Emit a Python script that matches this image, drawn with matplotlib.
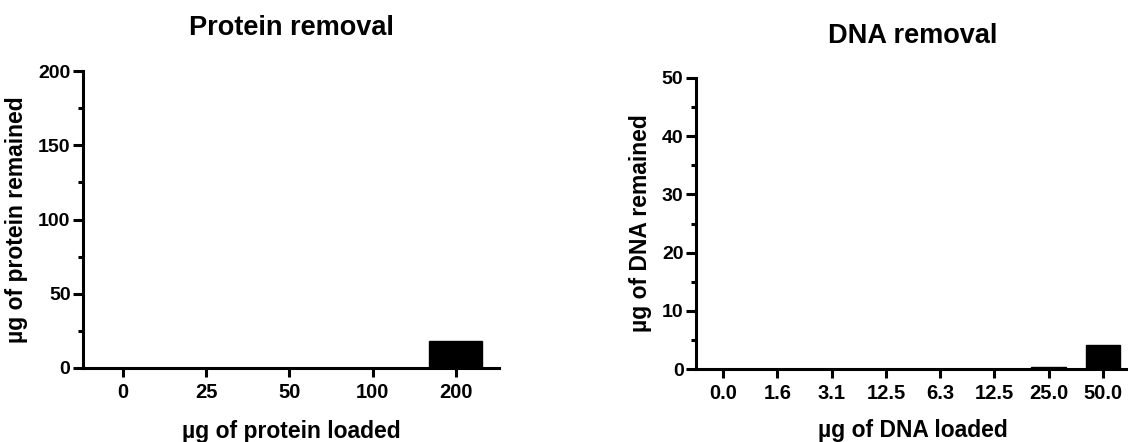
import numpy as np
import matplotlib
matplotlib.use("Agg")
import matplotlib.pyplot as plt
from matplotlib.ticker import MultipleLocator

plt.rcParams['font.family'] = ['Liberation Sans', 'DejaVu Sans']
plt.rcParams['font.weight'] = 'bold'

# protein panel
protein_loaded = ["0", "25", "50", "100", "200"]
protein_remained = [0, 0, 0, 0, 18]

# DNA panel
dna_loaded = ["0.0", "1.6", "3.1", "12.5", "6.3", "12.5", "25.0", "50.0"]
dna_remained = [0, 0, 0, 0, 0, 0, 0.3, 4.1]


def style_axis(ax, ymax, major, minor):
    for s in ["top", "right"]:
        ax.spines[s].set_visible(False)
    for s in ["left", "bottom"]:
        ax.spines[s].set_linewidth(2.2)
    ax.set_ylim(0, ymax)
    ax.yaxis.set_major_locator(MultipleLocator(major))
    ax.yaxis.set_minor_locator(MultipleLocator(minor))
    ax.tick_params(axis="y", which="major", length=7, width=2.2, pad=2, labelsize=14)
    ax.tick_params(axis="y", which="minor", length=3.5, width=2.2)
    ax.tick_params(axis="x", which="major", length=6.5, width=2.2, pad=4, labelsize=14.5)
    for lab in ax.get_xticklabels() + ax.get_yticklabels():
        lab.set_fontweight("bold")


fig = plt.figure(figsize=(11.28, 4.42), dpi=100)

# left: protein removal
ax1 = fig.add_axes([83 / 1128, 1 - 368 / 442, 416 / 1128, 297 / 442])
x1 = np.arange(len(protein_loaded))
ax1.bar(x1, protein_remained, width=0.64, color="black", edgecolor="black")
ax1.set_xticks(x1)
ax1.set_xticklabels(protein_loaded)
ax1.set_xlim(-0.48, len(protein_loaded) - 0.48)
style_axis(ax1, 200, 50, 25)
ax1.set_title("Protein removal", fontsize=19.5, fontweight="bold", y=1.121, pad=0)
ax1.set_xlabel("µg of protein loaded", fontsize=16.5, fontweight="bold")
ax1.set_ylabel("µg of protein remained", fontsize=16.5, fontweight="bold")
ax1.xaxis.set_label_coords(0.5, -0.175)
ax1.yaxis.set_label_coords(-0.132, 0.5)

# right: DNA removal
ax2 = fig.add_axes([696 / 1128, 1 - 369 / 442, 434 / 1128, 291 / 442])
x2 = np.arange(len(dna_loaded))
ax2.bar(x2, dna_remained, width=0.64, color="black", edgecolor="black")
ax2.set_xticks(x2)
ax2.set_xticklabels(dna_loaded)
ax2.set_xlim(-0.5, len(dna_loaded) - 0.5)
style_axis(ax2, 50, 10, 5)
ax2.set_title("DNA removal", fontsize=19.5, fontweight="bold", y=1.120, pad=0)
ax2.set_xlabel("µg of DNA loaded", fontsize=16.5, fontweight="bold")
ax2.set_ylabel("µg of DNA remained", fontsize=16.5, fontweight="bold")
ax2.xaxis.set_label_coords(0.5, -0.172)
ax2.yaxis.set_label_coords(-0.102, 0.5)

fig.savefig("out.png", dpi=100)
